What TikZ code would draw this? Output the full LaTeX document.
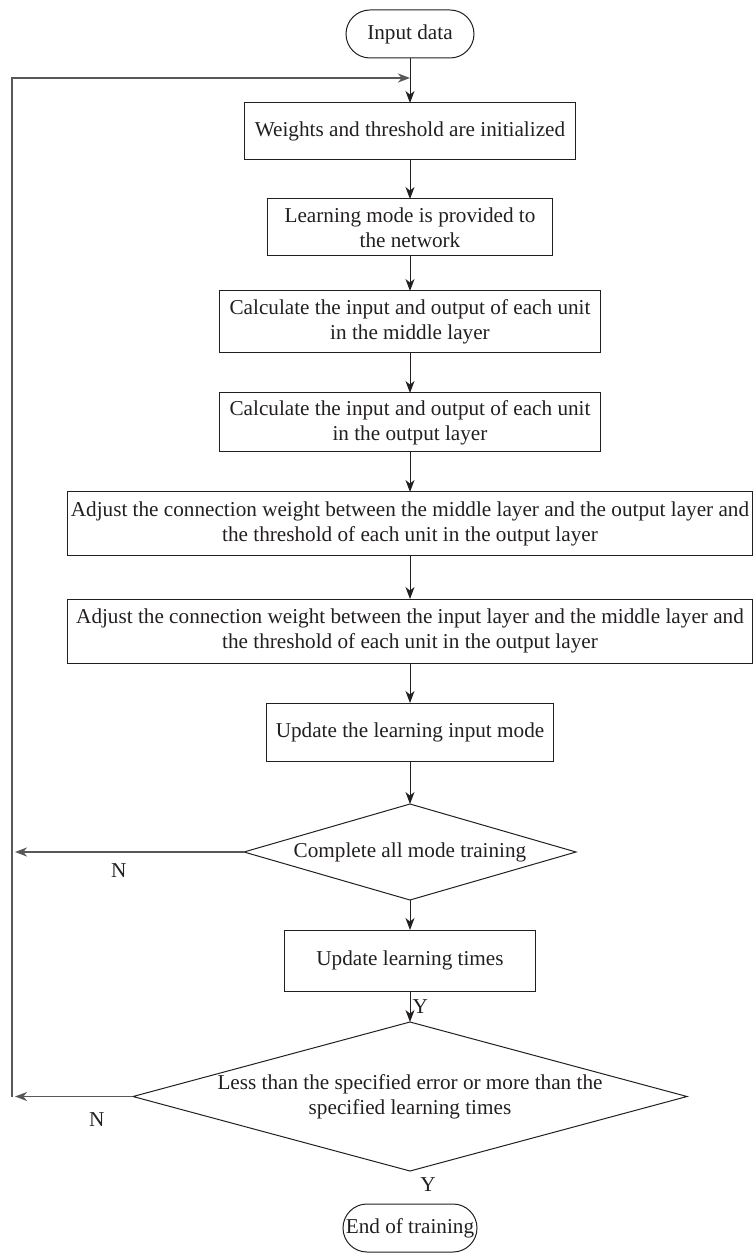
\documentclass[tikz,border=0pt]{standalone}
\usepackage{fontspec}
\setmainfont{Liberation Serif}
\usetikzlibrary{arrows.meta, positioning, shapes.geometric}
\definecolor{ink}{RGB}{35,31,32}
\definecolor{loopgray}{RGB}{88,88,88}

\begin{document}
\begin{tikzpicture}[
    node distance=20pt,
    font=\fontsize{10.6}{12.5}\selectfont,
    block/.style={rectangle, draw=ink, line width=0.5pt, text=ink, outer sep=0pt,
                  minimum width=#1, align=center, inner sep=1.5pt},
    term/.style={rectangle, rounded corners=12pt, draw=ink, line width=0.5pt, text=ink,
                 outer sep=0pt, minimum width=#1, minimum height=24pt, inner xsep=0pt},
    decision/.style={diamond, draw=ink, line width=0.5pt, text=ink, outer sep=0pt,
                     inner sep=0pt, align=center, aspect=#1},
    arr/.style={-{Stealth[length=6pt, width=4.5pt, inset=1.8pt]}, draw=ink, line width=0.5pt},
    back/.style={-{Stealth[length=6pt, width=4.5pt, inset=1.8pt]}, draw=loopgray, line width=0.9pt},
    tag/.style={text=ink, inner sep=1pt},
]
    \useasboundingbox (-205pt,17pt) rectangle (171pt,-611pt);

    \node[term=64pt] (start) {Input data};
    \coordinate[below=10pt of start] (join);
    \coordinate[left=199pt of join] (rail);
    \node[block=165pt, minimum height=28.5pt, below=22.5pt of start] (init) {Weights and threshold are initialized};
    \node[block=142pt, minimum height=28.5pt, below=19.5pt of init] (provide) {Learning mode is provided to\\the network};
    \node[block=190pt, minimum height=31pt, below=17.5pt of provide] (midcalc) {Calculate the input and output of each unit\\in the middle layer};
    \node[block=190pt, minimum height=29.5pt, below=20pt of midcalc] (outcalc) {Calculate the input and output of each unit\\in the output layer};
    \node[block=342pt, minimum height=31.5pt, below=20pt of outcalc] (adjout) {Adjust the connection weight between the middle layer and the output layer and\\the threshold of each unit in the output layer};
    \node[block=342pt, minimum height=32pt, below=22pt of adjout] (adjin) {Adjust the connection weight between the input layer and the middle layer and\\the threshold of each unit in the output layer};
    \node[block=143.5pt, minimum height=29pt, below=20pt of adjin] (update) {Update the learning input mode};
    \node[decision=3.46, minimum width=166pt, minimum height=48pt, below=21.5pt of update] (alltrain) {Complete all mode training};
    \node[block=125.5pt, minimum height=30.5pt, below=15pt of alltrain] (times) {Update learning times};
    \node[decision=3.72, minimum width=277pt, minimum height=74.5pt, below=15.5pt of times] (errcheck) {Less than the specified error or more than the\\specified learning times};
    \node[term=67pt, below=16.5pt of errcheck] (finish) {End of training};
    \node[tag, below right=2pt and 4pt of errcheck.south] (yes) {Y};

    \draw[arr] (start) -- (init);
    \draw[arr] (init) -- (provide);
    \draw[arr] (provide) -- (midcalc);
    \draw[arr] (midcalc) -- (outcalc);
    \draw[arr] (outcalc) -- (adjout);
    \draw[arr] (adjout) -- (adjin);
    \draw[arr] (adjin) -- (update);
    \draw[arr] (update) -- (alltrain);
    \draw[arr] (alltrain) -- (times);
    \draw[arr] (times) -- (errcheck) node[midway, right, tag] {Y};

    % N branches back to the top
    \draw[back, shorten >=1.5pt] (alltrain.west) -- (alltrain.west -| rail) node[pos=0.54, below=4.5pt, tag] {N};
    \draw[back, shorten >=1.5pt] (errcheck.west) -- (errcheck.west -| rail) node[pos=0.3, below=6.5pt, tag] {N};
    \draw[back] (rail |- errcheck.west) -- (rail) -- (join);
\end{tikzpicture}
\end{document}
